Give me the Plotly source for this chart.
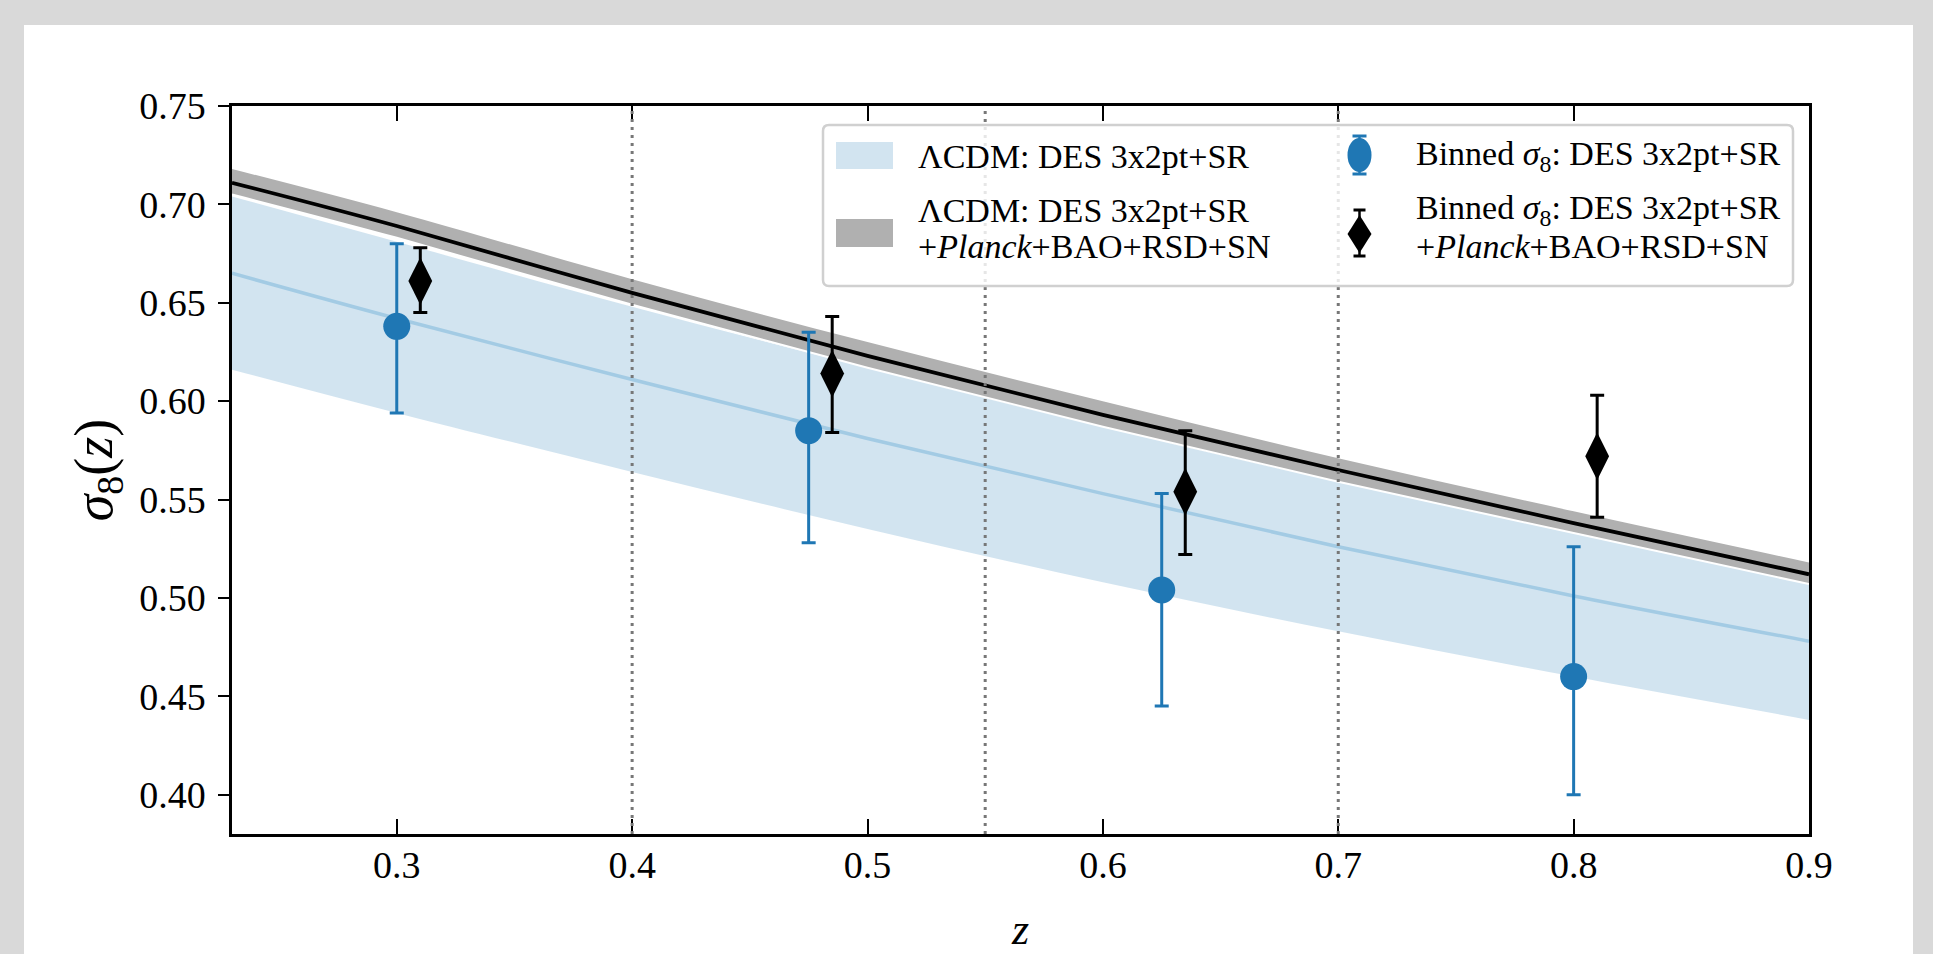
import plotly.graph_objects as go

# ---- data ----
z_grid = [0.23, 0.3, 0.4, 0.5, 0.6, 0.7, 0.8, 0.9]
des_mid = [0.665, 0.642, 0.611, 0.581, 0.553, 0.526, 0.501, 0.478]
des_hi = [0.704, 0.681, 0.648, 0.617, 0.588, 0.561, 0.537, 0.515]
des_lo = [0.616, 0.594, 0.564, 0.535, 0.508, 0.483, 0.460, 0.438]
comb_mid = [0.711, 0.689, 0.655, 0.623, 0.593, 0.565, 0.538, 0.512]
comb_hi = [0.718, 0.696, 0.662, 0.630, 0.600, 0.571, 0.544, 0.518]
comb_lo = [0.705, 0.683, 0.649, 0.617, 0.587, 0.559, 0.533, 0.507]

blue_z = [0.3, 0.475, 0.625, 0.8]
blue_s8 = [0.638, 0.585, 0.504, 0.460]
blue_up = [0.042, 0.050, 0.049, 0.066]
blue_dn = [0.044, 0.057, 0.059, 0.060]

black_z = [0.31, 0.485, 0.635, 0.81]
black_s8 = [0.661, 0.614, 0.554, 0.572]
black_up = [0.017, 0.029, 0.031, 0.031]
black_dn = [0.016, 0.030, 0.032, 0.031]

bin_edges = [0.4, 0.55, 0.7]
x_ticks = [0.3, 0.4, 0.5, 0.6, 0.7, 0.8, 0.9]
y_ticks = [0.40, 0.45, 0.50, 0.55, 0.60, 0.65, 0.70, 0.75]

leg_labels = [
    ["ΛCDM: DES 3x2pt+SR"],
    ["Binned <i>σ</i><sub>8</sub>: DES 3x2pt+SR"],
    ["ΛCDM: DES 3x2pt+SR", "+<i>Planck</i>+BAO+RSD+SN"],
    ["Binned <i>σ</i><sub>8</sub>: DES 3x2pt+SR", "+<i>Planck</i>+BAO+RSD+SN"],
]

FONT = "Liberation Serif"
BLUE = "#1f77b4"
W, H = 1933, 954
L, R, T, B = 232, 124, 106, 120
PW, PH = W - L - R, H - T - B


def px(x):
    return (x - L) / PW


def py(y):
    return (H - B - y) / PH


fig = go.Figure()

# DES band
fig.add_trace(go.Scatter(x=z_grid, y=des_lo, mode="lines", line=dict(width=0, shape="spline"),
                         showlegend=False, hoverinfo="skip"))
fig.add_trace(go.Scatter(x=z_grid, y=des_hi, mode="lines", fill="tonexty",
                         fillcolor="rgba(31,119,180,0.2)", line=dict(width=0, shape="spline"),
                         name="ΛCDM: DES 3x2pt+SR", showlegend=False))
fig.add_trace(go.Scatter(x=z_grid, y=des_mid, mode="lines",
                         line=dict(color="#a3cbe4", width=3.5, shape="spline"),
                         showlegend=False, hoverinfo="skip"))
# combined band
fig.add_trace(go.Scatter(x=z_grid, y=comb_lo, mode="lines", line=dict(width=2, color="white", shape="spline"),
                         showlegend=False, hoverinfo="skip"))
fig.add_trace(go.Scatter(x=z_grid, y=comb_hi, mode="lines", fill="tonexty",
                         fillcolor="#b0b0b0", line=dict(width=0, shape="spline"),
                         name="ΛCDM: DES 3x2pt+SR +Planck+BAO+RSD+SN", showlegend=False))
fig.add_trace(go.Scatter(x=z_grid, y=comb_mid, mode="lines",
                         line=dict(color="black", width=3.8, shape="spline"),
                         showlegend=False, hoverinfo="skip"))

# binned points
fig.add_trace(go.Scatter(x=blue_z, y=blue_s8, mode="markers",
                         marker=dict(symbol="circle", size=27, color=BLUE),
                         error_y=dict(type="data", symmetric=False, array=blue_up, arrayminus=blue_dn,
                                      color=BLUE, thickness=3, width=7),
                         name="Binned σ8: DES 3x2pt+SR", showlegend=False))
fig.add_trace(go.Scatter(x=black_z, y=black_s8, mode="markers",
                         marker=dict(symbol="diamond-tall", size=34, color="black"),
                         error_y=dict(type="data", symmetric=False, array=black_up, arrayminus=black_dn,
                                      color="black", thickness=3, width=7),
                         name="Binned σ8: DES 3x2pt+SR +Planck+BAO+RSD+SN", showlegend=False))

for e in bin_edges:
    fig.add_shape(type="line", x0=e, x1=e, xref="x", y0=0, y1=1, yref="paper",
                  line=dict(color="#777777", width=3, dash="3px,5px"), layer="above")

# white panel over grey page
fig.add_shape(type="rect", xref="paper", yref="paper", x0=px(24), x1=px(1913), y0=py(970), y1=py(25),
              fillcolor="white", line=dict(width=0), layer="below")

# ---- legend drawn by hand ----
bx0, bx1, by0, by1, r = 823, 1793, 125, 286, 6
rx, ry = r / PW, r / PH
X0, X1, Y0, Y1 = px(bx0), px(bx1), py(by1), py(by0)
path = (f"M {X0+rx},{Y0} L {X1-rx},{Y0} Q {X1},{Y0} {X1},{Y0+ry} L {X1},{Y1-ry} "
        f"Q {X1},{Y1} {X1-rx},{Y1} L {X0+rx},{Y1} Q {X0},{Y1} {X0},{Y1-ry} "
        f"L {X0},{Y0+ry} Q {X0},{Y0} {X0+rx},{Y0} Z")
fig.add_shape(type="path", xref="paper", yref="paper", path=path,
              fillcolor="rgba(255,255,255,0.82)", line=dict(color="#d0d0d0", width=2.5), layer="above")

# patches
fig.add_shape(type="rect", xref="paper", yref="paper", x0=px(836), x1=px(893), y0=py(169), y1=py(142),
              fillcolor="rgba(31,119,180,0.2)", line=dict(width=0), layer="above")
fig.add_shape(type="rect", xref="paper", yref="paper", x0=px(836), x1=px(893), y0=py(247), y1=py(219),
              fillcolor="#b0b0b0", line=dict(width=0), layer="above")

# blue marker with errorbar
mx = 1359.5
fig.add_shape(type="line", xref="paper", yref="paper", x0=px(mx), x1=px(mx), y0=py(175), y1=py(135),
              line=dict(color=BLUE, width=2.5), layer="above")
for cy in (136, 174):
    fig.add_shape(type="line", xref="paper", yref="paper", x0=px(mx - 7), x1=px(mx + 7), y0=py(cy), y1=py(cy),
                  line=dict(color=BLUE, width=3), layer="above")
fig.add_shape(type="circle", xref="paper", yref="paper", x0=px(mx - 12), x1=px(mx + 12), y0=py(172), y1=py(138),
              fillcolor=BLUE, line=dict(width=0), layer="above")

# black diamond with errorbar
dcy = 234
fig.add_shape(type="line", xref="paper", yref="paper", x0=px(mx), x1=px(mx), y0=py(257), y1=py(209),
              line=dict(color="black", width=2.5), layer="above")
for cy in (210, 256):
    fig.add_shape(type="line", xref="paper", yref="paper", x0=px(mx - 6), x1=px(mx + 6), y0=py(cy), y1=py(cy),
                  line=dict(color="black", width=3), layer="above")
dpath = (f"M {px(mx)},{py(dcy-19)} L {px(mx+12)},{py(dcy)} L {px(mx)},{py(dcy+19)} "
         f"L {px(mx-12)},{py(dcy)} Z")
fig.add_shape(type="path", xref="paper", yref="paper", path=dpath,
              fillcolor="black", line=dict(width=0), layer="above")

# legend texts
text_pos = [(917, [156]), (1415, [156]), (917, [210, 247]), (1415, [210, 247])]
for (tx, ys), lines in zip(text_pos, leg_labels):
    for ty, line in zip(ys, lines):
        fig.add_annotation(xref="paper", yref="paper", x=px(tx), y=py(ty), text=line,
                           showarrow=False, xanchor="left", yanchor="middle", borderpad=0,
                           font=dict(family=FONT, size=34, color="black"))

fig.update_layout(
    width=W, height=H,
    margin=dict(l=L, r=R, t=T, b=B, autoexpand=False),
    paper_bgcolor="#d9d9d9",
    plot_bgcolor="white",
    font=dict(family=FONT, color="black", size=36),
    showlegend=False,
    xaxis=dict(range=[0.23, 0.9], tickvals=x_ticks, ticktext=[f"{v:.1f}" for v in x_ticks],
               ticks="inside", ticklen=15, tickwidth=2, tickcolor="black",
               showline=True, linecolor="black", linewidth=2.5, mirror="ticks",
               showgrid=False, zeroline=False, tickfont=dict(size=38), automargin=False,
               ticklabelstandoff=-4,
               title=dict(text="<i>z</i>", font=dict(size=44), standoff=34)),
    yaxis=dict(range=[0.38, 0.75], tickvals=y_ticks, ticktext=[f"{v:.2f}" for v in y_ticks],
               ticks="outside", ticklen=11, tickwidth=2, tickcolor="black",
               showline=True, linecolor="black", linewidth=2.5, mirror=True,
               showgrid=False, zeroline=False, tickfont=dict(size=38), automargin=False,
               ticklabelstandoff=5,
               title=dict(text="<i>σ</i><sub>8</sub>(<i>z</i>)", font=dict(size=54), standoff=10)),
)

fig.write_html("out.html", config={"displayModeBar": False},
               post_script="document.body.style.margin='0';document.body.style.overflow='hidden';")
